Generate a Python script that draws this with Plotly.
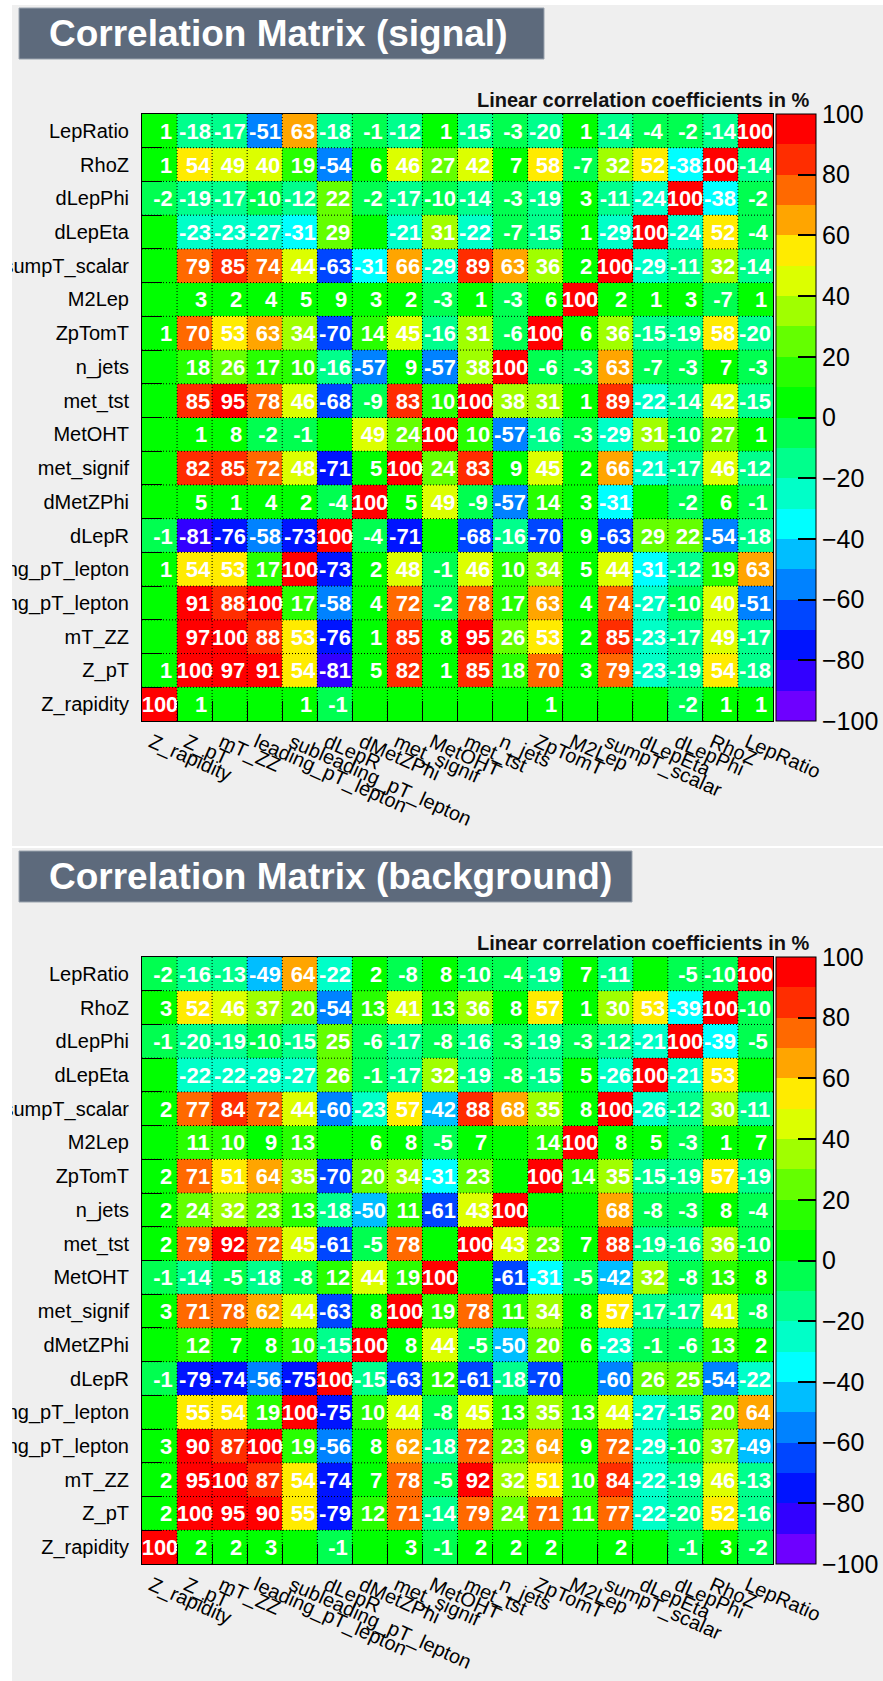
import plotly.graph_objects as go

W, H = 883, 1681

# ---------------- data ----------------
variables = ["Z_rapidity", "Z_pT", "mT_ZZ", "leading_pT_lepton", "subleading_pT_lepton",
             "dLepR", "dMetZPhi", "met_signif", "MetOHT", "met_tst", "n_jets", "ZpTomT",
             "M2Lep", "sumpT_scalar", "dLepEta", "dLepPhi", "RhoZ", "LepRatio"]

# rows listed from top (LepRatio) to bottom (Z_rapidity); columns follow `variables`
signal_corr = [
    [1, -18, -17, -51, 63, -18, -1, -12, 1, -15, -3, -20, 1, -14, -4, -2, -14, 100],
    [1, 54, 49, 40, 19, -54, 6, 46, 27, 42, 7, 58, -7, 32, 52, -38, 100, -14],
    [-2, -19, -17, -10, -12, 22, -2, -17, -10, -14, -3, -19, 3, -11, -24, 100, -38, -2],
    [0, -23, -23, -27, -31, 29, 0, -21, 31, -22, -7, -15, 1, -29, 100, -24, 52, -4],
    [0, 79, 85, 74, 44, -63, -31, 66, -29, 89, 63, 36, 2, 100, -29, -11, 32, -14],
    [0, 3, 2, 4, 5, 9, 3, 2, -3, 1, -3, 6, 100, 2, 1, 3, -7, 1],
    [1, 70, 53, 63, 34, -70, 14, 45, -16, 31, -6, 100, 6, 36, -15, -19, 58, -20],
    [0, 18, 26, 17, 10, -16, -57, 9, -57, 38, 100, -6, -3, 63, -7, -3, 7, -3],
    [0, 85, 95, 78, 46, -68, -9, 83, 10, 100, 38, 31, 1, 89, -22, -14, 42, -15],
    [0, 1, 8, -2, -1, 0, 49, 24, 100, 10, -57, -16, -3, -29, 31, -10, 27, 1],
    [0, 82, 85, 72, 48, -71, 5, 100, 24, 83, 9, 45, 2, 66, -21, -17, 46, -12],
    [0, 5, 1, 4, 2, -4, 100, 5, 49, -9, -57, 14, 3, -31, 0, -2, 6, -1],
    [-1, -81, -76, -58, -73, 100, -4, -71, 0, -68, -16, -70, 9, -63, 29, 22, -54, -18],
    [1, 54, 53, 17, 100, -73, 2, 48, -1, 46, 10, 34, 5, 44, -31, -12, 19, 63],
    [0, 91, 88, 100, 17, -58, 4, 72, -2, 78, 17, 63, 4, 74, -27, -10, 40, -51],
    [0, 97, 100, 88, 53, -76, 1, 85, 8, 95, 26, 53, 2, 85, -23, -17, 49, -17],
    [1, 100, 97, 91, 54, -81, 5, 82, 1, 85, 18, 70, 3, 79, -23, -19, 54, -18],
    [100, 1, 0, 0, 1, -1, 0, 0, 0, 0, 0, 1, 0, 0, 0, -2, 1, 1],
]

background_corr = [
    [-2, -16, -13, -49, 64, -22, 2, -8, 8, -10, -4, -19, 7, -11, 0, -5, -10, 100],
    [3, 52, 46, 37, 20, -54, 13, 41, 13, 36, 8, 57, 1, 30, 53, -39, 100, -10],
    [-1, -20, -19, -10, -15, 25, -6, -17, -8, -16, -3, -19, -3, -12, -21, 100, -39, -5],
    [0, -22, -22, -29, -27, 26, -1, -17, 32, -19, -8, -15, 5, -26, 100, -21, 53, 0],
    [2, 77, 84, 72, 44, -60, -23, 57, -42, 88, 68, 35, 8, 100, -26, -12, 30, -11],
    [0, 11, 10, 9, 13, 0, 6, 8, -5, 7, 0, 14, 100, 8, 5, -3, 1, 7],
    [2, 71, 51, 64, 35, -70, 20, 34, -31, 23, 0, 100, 14, 35, -15, -19, 57, -19],
    [2, 24, 32, 23, 13, -18, -50, 11, -61, 43, 100, 0, 0, 68, -8, -3, 8, -4],
    [2, 79, 92, 72, 45, -61, -5, 78, 0, 100, 43, 23, 7, 88, -19, -16, 36, -10],
    [-1, -14, -5, -18, -8, 12, 44, 19, 100, 0, -61, -31, -5, -42, 32, -8, 13, 8],
    [3, 71, 78, 62, 44, -63, 8, 100, 19, 78, 11, 34, 8, 57, -17, -17, 41, -8],
    [0, 12, 7, 8, 10, -15, 100, 8, 44, -5, -50, 20, 6, -23, -1, -6, 13, 2],
    [-1, -79, -74, -56, -75, 100, -15, -63, 12, -61, -18, -70, 0, -60, 26, 25, -54, -22],
    [0, 55, 54, 19, 100, -75, 10, 44, -8, 45, 13, 35, 13, 44, -27, -15, 20, 64],
    [3, 90, 87, 100, 19, -56, 8, 62, -18, 72, 23, 64, 9, 72, -29, -10, 37, -49],
    [2, 95, 100, 87, 54, -74, 7, 78, -5, 92, 32, 51, 10, 84, -22, -19, 46, -13],
    [2, 100, 95, 90, 55, -79, 12, 71, -14, 79, 24, 71, 11, 77, -22, -20, 52, -16],
    [100, 2, 2, 3, 0, -1, 0, 3, -1, 2, 2, 2, 0, 2, 0, -1, 3, -2],
]

panel_titles = ["Correlation Matrix (signal)", "Correlation Matrix (background)"]
colorbar_label = "Linear correlation coefficients in %"
colorbar_ticks = [-100, -80, -60, -40, -20, 0, 20, 40, 60, 80, 100]

# ROOT-like 20-level rainbow palette (from -100 to +100)
palette = [
    (110, 0, 255), (50, 0, 255), (0, 20, 255), (0, 70, 255), (0, 130, 255),
    (0, 190, 255), (0, 255, 255), (0, 255, 200), (0, 255, 140), (0, 255, 80),
    (0, 255, 0), (40, 255, 0), (100, 255, 0), (160, 255, 0), (220, 255, 0),
    (255, 235, 0), (255, 165, 0), (255, 105, 0), (255, 45, 0), (255, 0, 0),
]

# ---------------- helpers ----------------
def px(p):
    return p / W


def py(p):
    return 1 - p / H


n = len(palette)
colorscale = []
for k, c in enumerate(palette):
    col = "rgb(%d,%d,%d)" % c
    lo = k / n
    hi = (k + 1) / n
    colorscale.append([lo, col])
    colorscale.append([hi if k == n - 1 else hi - 1e-6, col])


def cell_text(v):
    if v == 0:
        return ""
    return ("%3d" % v).replace(" ", "\u00a0")


FONT = "Liberation Sans, Arial, Helvetica, sans-serif"
GREY = "#efefef"
OFFSET = 843
MAT_L, MAT_R = 142, 773
MAT_T, MAT_B = 114, 721
BOX_RIGHT = [544, 632]
CANVAS = [(5, 846), (848, H)]

fig = go.Figure()

shapes = []
annotations = []
panels = [signal_corr, background_corr]

for idx, corr in enumerate(panels):
    off = OFFSET * idx
    z = list(reversed(corr))
    text = [[cell_text(v) for v in row] for row in z]
    xa = "x" if idx == 0 else "x2"
    ya = "y" if idx == 0 else "y2"
    top, bot = MAT_T + off, MAT_B + off
    fig.add_trace(go.Heatmap(
        z=z, x=variables, y=variables, text=text, texttemplate="%{text}",
        textfont=dict(family=FONT, size=22, color="white", weight="bold"),
        colorscale=colorscale, zmin=-100, zmax=100, hoverinfo="skip",
        xaxis=xa, yaxis=ya,
        colorbar=dict(
            x=px(776), xanchor="left", xpad=0, ypad=0,
            y=(py(top) + py(bot)) / 2, yanchor="middle",
            len=(bot - top) / H, lenmode="fraction",
            thickness=40, thicknessmode="pixels",
            outlinewidth=1, outlinecolor="black",
            ticks="inside", ticklen=18, tickwidth=1.5, tickcolor="black",
            tickvals=colorbar_ticks,
            tickfont=dict(family=FONT, size=25, color="black"),
        ),
    ))

    axis_common = dict(
        type="category", tickson="boundaries", ticks="inside", ticklen=20,
        tickcolor="black", tickwidth=1, showline=True, mirror=True,
        linecolor="black", linewidth=1, showgrid=False, zeroline=False,
        tickfont=dict(family=FONT, size=20, color="black"), dtick=1,
        fixedrange=True, automargin=False,
    )
    xkey = "xaxis" if idx == 0 else "xaxis2"
    ykey = "yaxis" if idx == 0 else "yaxis2"
    fig.update_layout(**{
        xkey: dict(axis_common, domain=[px(MAT_L), px(MAT_R)], anchor=ya,
                   tickangle=24, ticklabelstandoff=1, ticklabelshift=-8),
        ykey: dict(axis_common, domain=[py(bot), py(top)], anchor=xa,
                   ticklabelstandoff=8),
    })

    # panel grey canvas
    c0, c1 = CANVAS[idx]
    shapes.append(dict(type="rect", xref="paper", yref="paper", layer="below",
                       x0=px(12), x1=1, y0=py(c1), y1=py(c0),
                       fillcolor=GREY, line=dict(width=0)))

    # dotted grid at cell boundaries
    ncat = len(variables)
    xd = xa + " domain"
    yd = ya + " domain"
    for i in range(1, ncat):
        shapes.append(dict(type="line", xref=xd, yref=yd, x0=i / ncat, x1=i / ncat,
                           y0=0, y1=1, layer="above",
                           line=dict(color="black", width=1, dash="1px,2px")))
        shapes.append(dict(type="line", xref=xd, yref=yd, x0=0, x1=1,
                           y0=i / ncat, y1=i / ncat, layer="above",
                           line=dict(color="black", width=1, dash="1px,2px")))

    # title box
    shapes.append(dict(type="rect", xref="paper", yref="paper", layer="above",
                       x0=px(19), x1=px(BOX_RIGHT[idx]), y0=py(59 + off), y1=py(8 + off),
                       fillcolor="#5d6a7c", line=dict(color="#9aa3ae", width=1)))
    annotations.append(dict(text=panel_titles[idx], xref="paper", yref="paper",
                            x=px(47), y=py(33.5 + off), xanchor="left", yanchor="middle",
                            showarrow=False,
                            font=dict(family=FONT, size=37, color="white", weight="bold")))
    annotations.append(dict(text=colorbar_label, xref="paper", yref="paper",
                            x=px(812), y=py(100 + off), xanchor="right", yanchor="middle",
                            showarrow=False,
                            font=dict(family=FONT, size=20, color="#111111", weight="bold")))

# white left margin clipping long labels
shapes.append(dict(type="rect", xref="paper", yref="paper", layer="above",
                   x0=0, x1=px(12), y0=0, y1=1, fillcolor="white", line=dict(width=0)))

fig.update_layout(
    width=W, height=H, autosize=False,
    margin=dict(l=0, r=0, t=0, b=0, pad=0, autoexpand=False),
    paper_bgcolor="white", plot_bgcolor="rgba(0,0,0,0)",
    shapes=shapes, annotations=annotations, showlegend=False,
)

fig.write_html("out.html")
